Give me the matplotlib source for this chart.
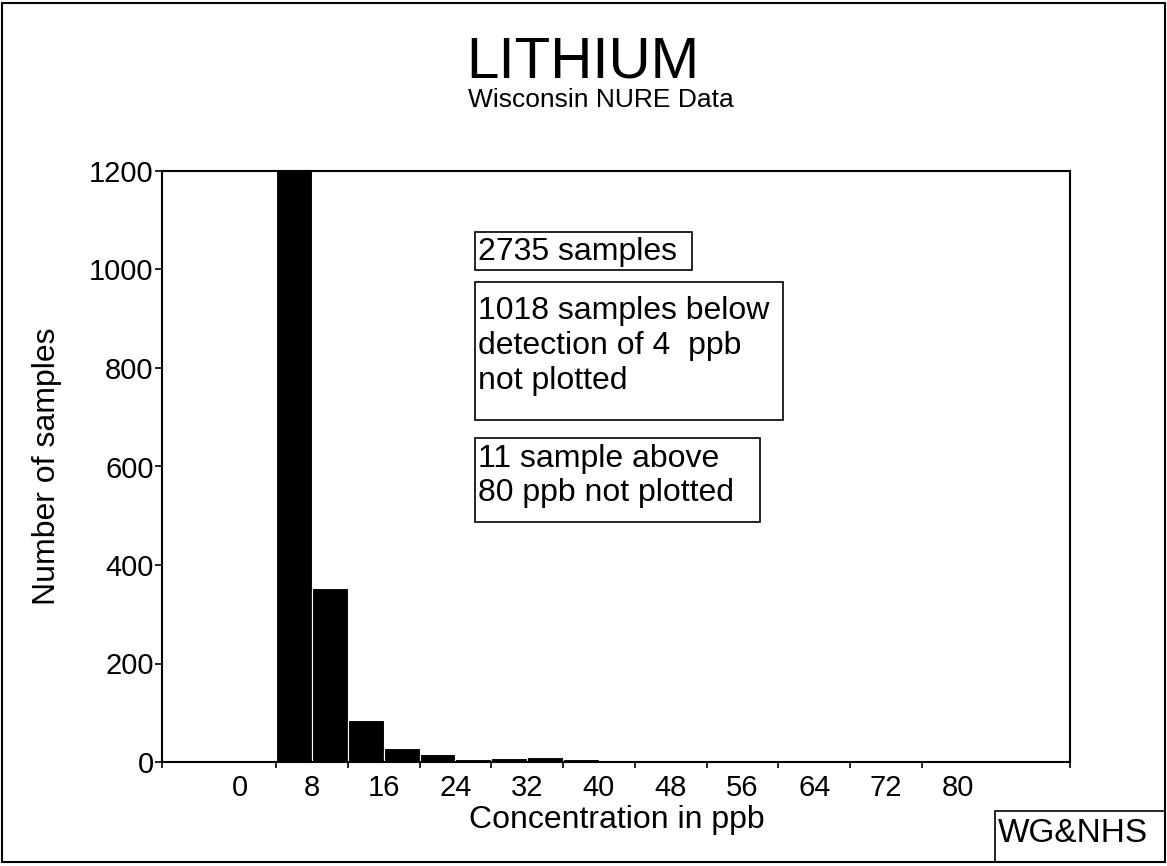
import matplotlib
matplotlib.use("Agg")
import matplotlib.pyplot as plt
from matplotlib.patches import Rectangle

# histogram data (bin width 4 ppb)
bin_left = [4, 8, 12, 16, 20, 24, 28, 32, 36, 40, 44, 48, 52, 56, 60, 64, 68, 72, 76]
counts = [1250, 353, 85, 29, 16, 7, 9, 10, 6, 3, 5, 1, 1, 2, 1, 2, 1, 2, 1]
x_labels = [0, 8, 16, 24, 32, 40, 48, 56, 64, 72, 80]
y_ticks = [0, 200, 400, 600, 800, 1000, 1200]

plt.rcParams['font.family'] = ['Liberation Sans', 'DejaVu Sans']

W, H = 1167, 866
fig = plt.figure(figsize=(W / 100, H / 100), dpi=100)

def fx(px):
    return px / W

def fy(py):
    return 1 - py / H

ax = fig.add_axes([fx(162), fy(762), fx(1070) - fx(162), fy(171) - fy(762)])
ax.bar(bin_left, counts, width=4, align='edge', color='black',
       edgecolor='white', linewidth=0.8)

ax.set_xlim(-8.7, 92.5)
ax.set_ylim(0, 1200)
for s in ax.spines.values():
    s.set_linewidth(1.5)

ax.set_xticks(x_labels)
ax.set_xticks(list(range(4, 81, 4)) + [-8.7, 92.5], minor=True)
ax.tick_params(axis='x', which='major', length=0, pad=9, labelsize=21)
ax.tick_params(axis='x', which='minor', length=4.5, width=1.2, direction='out')
ax.set_yticks(y_ticks)
ax.tick_params(axis='y', length=5, width=1.2, pad=1, labelsize=21)

fig.text(fx(617), fy(820), 'Concentration in ppb', fontsize=23,
         ha='center', va='center')
fig.text(fx(47), fy(466), 'Number of samples', rotation=90, fontsize=23,
         ha='center', va='center')

fig.text(fx(583), fy(78), 'LITHIUM', fontsize=42, ha='center', va='baseline')
fig.text(fx(601), fy(107), 'Wisconsin NURE Data', fontsize=19, ha='center', va='baseline')

# annotation boxes (pixel positions: left, top, right, bottom, text centre y)
boxes = [
    ((475, 232, 692, 270, 252), '2735 samples', 23),
    ((475, 282, 783, 420, 346), '1018 samples below\ndetection of 4  ppb\nnot plotted', 23),
    ((475, 438, 760, 522, 476), '11 sample above\n80 ppb not plotted', 23),
    ((995, 811, 1165, 862, 834), 'WG&NHS', 24),
]
for (l, t, r, b, cy), txt, fs in boxes:
    fig.add_artist(Rectangle((fx(l), fy(b)), fx(r) - fx(l), fy(t) - fy(b),
                             transform=fig.transFigure, fill=False,
                             edgecolor='black', linewidth=1.2))
    fig.text(fx(l + 3), fy(cy), txt, fontsize=fs, ha='left',
             va='center', linespacing=1.2)

# outer frame
fig.add_artist(Rectangle((fx(2), fy(862)), fx(1165) - fx(2), fy(3) - fy(862),
                         transform=fig.transFigure, fill=False,
                         edgecolor='black', linewidth=1.5))

fig.savefig('out.png', dpi=100)
